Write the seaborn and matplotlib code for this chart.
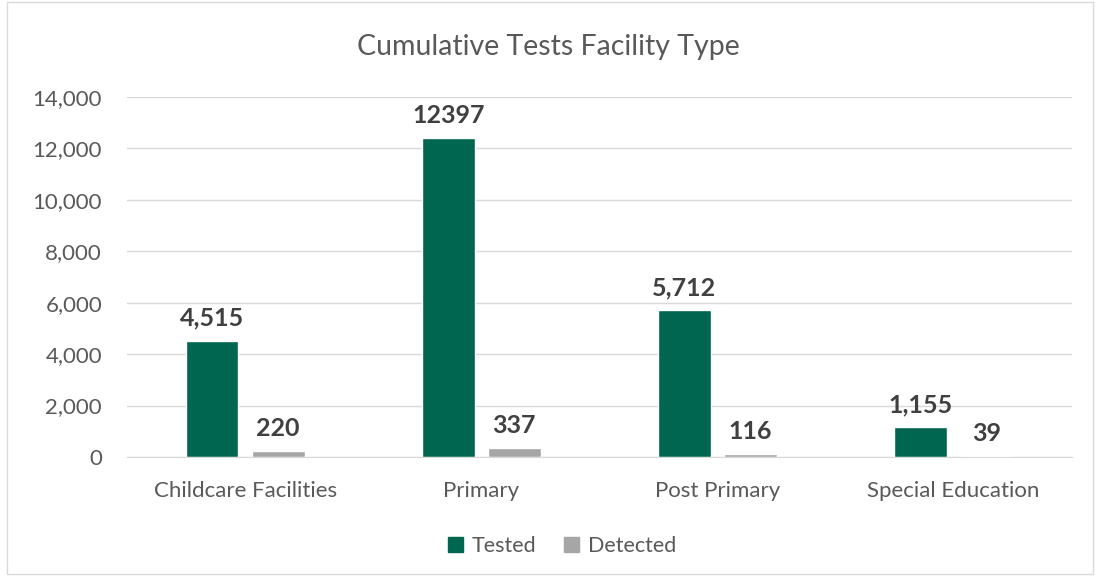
import matplotlib
matplotlib.use("Agg")
import matplotlib.pyplot as plt
import seaborn as sns
import pandas as pd
from matplotlib.ticker import FuncFormatter
from matplotlib.patches import Rectangle

categories = ["Childcare Facilities", "Primary", "Post Primary", "Special Education"]
tested = [4515, 12397, 5712, 1155]
detected = [220, 337, 116, 39]
tested_labels = ["4,515", "12397", "5,712", "1,155"]
detected_labels = ["220", "337", "116", "39"]
series = ["Tested", "Detected"]
colors = ["#00664F", "#A6A6A6"]

df = pd.DataFrame({
    "Category": categories * 2,
    "Series": [series[0]] * 4 + [series[1]] * 4,
    "Value": tested + detected,
})

sns.set_style("white")
plt.rcParams["font.family"] = ["Lato", "DejaVu Sans"]

fig = plt.figure(figsize=(10.97, 5.76), dpi=100)
ax = fig.add_axes([0.1158, 0.2066, 0.8611, 0.625])

sns.barplot(data=df, x="Category", y="Value", hue="Series", palette=colors,
            width=0.56, gap=0.2, ax=ax, legend=True, saturation=1)

ax.set_ylim(0, 14000)
ax.set_xlim(-0.5, 3.5)
ax.set_yticks(range(0, 14001, 2000))
ax.yaxis.set_major_formatter(FuncFormatter(lambda v, p: f"{int(v):,}"))
ax.grid(axis="y", color="#D9D9D9", linewidth=1)
ax.set_axisbelow(True)
for s in ["top", "right", "left"]:
    ax.spines[s].set_visible(False)
ax.spines["bottom"].set_color("#D9D9D9")
ax.tick_params(axis="both", length=0, colors="#595959", labelsize=16)
ax.tick_params(axis="x", pad=17)
ax.tick_params(axis="y", pad=18)
ax.set_xlabel("")
ax.set_ylabel("")

for cont, labs in zip(ax.containers, [tested_labels, detected_labels]):
    ax.bar_label(cont, labels=labs, padding=8, fontsize=18, fontweight="bold", color="#404040")

fig.text(0.5, 0.918, "Cumulative Tests Facility Type", ha="center", va="center",
         fontsize=20.5, color="#595959")

ax.legend_.remove()
handles = [Rectangle((0, 0), 1, 1, color=c) for c in colors]
fig.legend(handles, series, loc="center", bbox_to_anchor=(0.512, 0.052), ncol=2, frameon=False,
           fontsize=15.5, labelcolor="#595959", handlelength=0.7, handleheight=0.7,
           handletextpad=0.4, columnspacing=1.3)

fig.patches.append(Rectangle((0.006, 0.003), 0.99, 0.994, transform=fig.transFigure,
                             fill=False, edgecolor="#D9D9D9", linewidth=1))

fig.savefig("out.png", dpi=100)
